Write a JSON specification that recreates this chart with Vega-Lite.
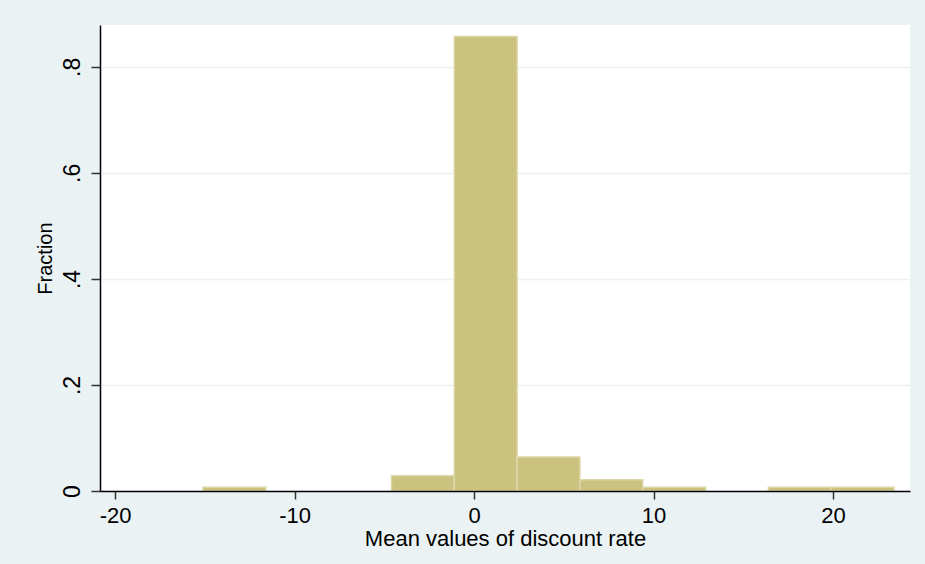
{
  "$schema": "https://vega.github.io/schema/vega-lite/v6.json",
  "width": 810,
  "height": 466,
  "autosize": {"type": "none"},
  "padding": {"left": 100, "top": 25, "right": 15, "bottom": 73},
  "background": "#EAF2F3",
  "config": {
    "view": {"fill": "white", "stroke": null},
    "font": "Liberation Sans"
  },
  "data": {
    "values": [
      {"bin_start": -15.1, "bin_end": -11.6, "fraction": 0.0071},
      {"bin_start": -4.6, "bin_end": -1.1, "fraction": 0.0286},
      {"bin_start": -1.1, "bin_end": 2.4, "fraction": 0.8571},
      {"bin_start": 2.4, "bin_end": 5.9, "fraction": 0.0643},
      {"bin_start": 5.9, "bin_end": 9.4, "fraction": 0.0214},
      {"bin_start": 9.4, "bin_end": 12.9, "fraction": 0.0071},
      {"bin_start": 16.4, "bin_end": 19.9, "fraction": 0.0071},
      {"bin_start": 19.9, "bin_end": 23.4, "fraction": 0.0071}
    ]
  },
  "mark": {"type": "rect", "fill": "#CAC27E", "stroke": "#DCD7A8", "strokeWidth": 1.5},
  "encoding": {
    "x": {
      "field": "bin_start",
      "type": "quantitative",
      "scale": {"domain": [-20.84, 24.29], "nice": false, "zero": false},
      "axis": {
        "values": [-20, -10, 0, 10, 20],
        "labelExpr": "'' + datum.value",
        "title": "Mean values of discount rate",
        "grid": false,
        "zindex": 1,
        "domainColor": "#000000",
        "domainWidth": 1.5,
        "tickColor": "#333333",
        "tickWidth": 1.5,
        "tickSize": 8,
        "labelFontSize": 22,
        "labelColor": "#000000",
        "labelPadding": 6,
        "labelFlush": false,
        "titleFontSize": 22,
        "titleFontWeight": "normal",
        "titleColor": "#000000",
        "titlePadding": 2
      }
    },
    "x2": {"field": "bin_end"},
    "y": {
      "field": "fraction",
      "type": "quantitative",
      "scale": {"domain": [0, 0.879], "nice": false},
      "axis": {
        "values": [0, 0.2, 0.4, 0.6, 0.8],
        "labelExpr": "datum.value == 0 ? '0' : replace(format(datum.value, '.1f'), '0.', '.')",
        "title": "Fraction",
        "grid": true,
        "gridColor": "#EAF2F3",
        "gridWidth": 1.5,
        "domainColor": "#000000",
        "domainWidth": 1.5,
        "tickColor": "#333333",
        "tickWidth": 1.5,
        "tickSize": 9,
        "labelAngle": -90,
        "labelAlign": "center",
        "labelBaseline": "bottom",
        "labelFontSize": 23,
        "labelColor": "#000000",
        "labelPadding": 7,
        "titleFontSize": 20,
        "titleFontWeight": "normal",
        "titleColor": "#000000",
        "titlePadding": 6
      }
    },
    "y2": {"datum": 0}
  }
}
